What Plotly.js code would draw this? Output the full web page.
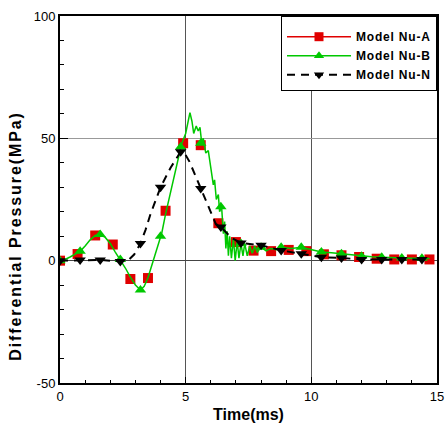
<!DOCTYPE html>
<html>
<head>
<meta charset="utf-8">
<script src="https://cdn.plot.ly/plotly-3.0.1.min.js"></script>
<style>
html,body{margin:0;padding:0;background:#fff;}
#chart{width:448px;height:428px;}
.annotation-text{letter-spacing:1.9px;}
.legendtext{letter-spacing:0.8px;}
</style>
</head>
<body>
<div id="chart"></div>
<script>
// Model Nu-A (red squares)
var timeA = [0,0.7,1.4,2.1,2.8,3.5,4.2,4.9,5.6,6.3,7.0,7.7,8.4,9.1,9.8,10.5,11.2,11.9,12.6,13.3,14.0,14.7];
var nuA   = [0,2.7,10.3,6.6,-7.5,-7.1,20.4,48,47.2,15.3,7.6,4.1,3.9,4.4,3.9,2.6,2.2,1.5,0.8,0.5,0.5,0.5];

// Model Nu-B (green curve + triangle markers)
var timeBLine = [0,0.2,0.4,0.6,0.8,1.0,1.2,1.4,1.6,1.8,2.0,2.2,2.4,2.6,2.8,3.0,3.2,3.35,3.5,3.7,3.9,4.05,4.2,4.4,4.6,4.84,5.0,5.1,5.17,5.25,5.32,5.42,5.5,5.57,5.64,5.7,5.8,5.9,5.97,6.05,6.1,6.15,6.22,6.3,6.35,6.43,6.5,6.55,6.6,6.65,6.7,6.75,6.82,6.9,6.97,7.05,7.12,7.2,7.28,7.35,7.45,7.55,7.65,7.75,7.85,8.0,8.2,8.4,8.6,8.8,9.2,9.6,10.0,10.4,10.8,11.2,11.6,12.0,12.4,12.8,13.2,13.6,14.0,14.4,14.7];
var nuBLine   = [0,0.5,1.5,2.5,3.8,6,8.5,10.3,10.7,9.5,7,3.5,0.5,-3,-6.7,-10,-12,-10.5,-7,0,6.5,11.3,19,28,38,47.8,52,57,60.5,57,52,55,53,54.5,48,50,44,45,40,34,31,33,25,27,20,22,11,16,5,12,2,10,1,9,0,8,1,7,2,7,2,6,3,6,3.5,5.5,4,5,4.5,5.5,5,5.5,4.5,3.5,3.2,2.8,2.3,1.8,1.6,1.4,1.2,1.1,1.0,1.0,0.9];
var timeBMark = [0,0.8,1.6,2.4,3.2,4.0,4.8,5.6,6.4,7.2,8.0,8.8,9.6,10.4,11.2,12.0,12.8,13.6,14.4];
var nuBMark   = [0,3.8,10.7,0.5,-12,10,46.5,48,22,7,5.5,5.5,5.5,3.5,2.8,1.8,1.4,1.1,1.0];

// Model Nu-N (black dashed + down triangles)
var timeNLine = [0,0.8,1.6,2.4,2.75,2.95,3.2,3.4,3.6,4.0,4.4,4.8,4.95,5.15,5.44,5.6,5.77,5.94,6.07,6.2,6.4,6.8,7.2,8.0,8.8,9.6,10.4,11.2,12.0,12.8,13.6,14.4];
var nuNLine   = [0,0.3,0.3,-0.3,0.5,2.5,7,12.5,19,30,38,44.5,44,40.5,33.5,29.5,26,21.8,18.4,15,13.8,9.5,7.2,6.3,4.2,2.8,1.4,1.1,0.5,0.5,0.5,0.5];
var timeNMark = [0,0.8,1.6,2.4,3.2,4.0,4.8,5.6,6.4,7.2,8.0,8.8,9.6,10.4,11.2,12.0,12.8,13.6,14.4];
var nuNMark   = [0,0.3,0.3,-0.3,7,30,44.5,29.5,13.8,7.2,6.3,4.2,2.8,1.4,1.1,0.5,0.5,0.5,0.5];

var seriesNames = ['Model Nu-A','Model Nu-B','Model Nu-N'];
var xTicks = [0,5,10,15];
var yTicks = [-50,0,50,100];
var xTitle = 'Time(ms)';
var yTitle = 'Differential Pressure(MPa)';

var RED = '#e00000', GREEN = '#00c800', BLACK = '#000000';

var traces = [
  {x: timeA, y: nuA, mode: 'markers', showlegend: false,
   marker: {symbol: 'square', size: 10, color: RED}},
  {x: timeBLine, y: nuBLine, mode: 'lines', showlegend: false,
   line: {color: GREEN, width: 1.5}},
  {x: timeBMark, y: nuBMark, mode: 'markers', showlegend: false,
   marker: {symbol: 'triangle-up', size: 10, color: GREEN}},
  {x: timeNLine, y: nuNLine, mode: 'lines', showlegend: false,
   line: {color: BLACK, width: 2, dash: '8px,6px'}},
  {x: timeNMark, y: nuNMark, mode: 'markers', showlegend: false,
   marker: {symbol: 'triangle-down', size: 10, color: BLACK}},
  // legend entries
  {x: [null], y: [null], name: seriesNames[0], mode: 'lines+markers',
   line: {color: RED, width: 1.5}, marker: {symbol: 'square', size: 9, color: RED}},
  {x: [null], y: [null], name: seriesNames[1], mode: 'lines+markers',
   line: {color: GREEN, width: 1.5}, marker: {symbol: 'triangle-up', size: 9, color: GREEN}},
  {x: [null], y: [null], name: seriesNames[2], mode: 'lines+markers',
   line: {color: BLACK, width: 2, dash: '8px,6px'}, marker: {symbol: 'triangle-down', size: 9, color: BLACK}}
];

var tickFont = {family: 'Arial, Liberation Sans, sans-serif', size: 13, color: '#000'};
var titleFont = {family: 'Arial, Liberation Sans, sans-serif', size: 16, color: '#000', weight: 'bold'};

var layout = {
  width: 448, height: 428,
  margin: {l: 60, r: 11, t: 16, b: 45, pad: 0},
  paper_bgcolor: '#fff', plot_bgcolor: '#fff',
  showlegend: true,
  legend: {x: 1, y: 1, xanchor: 'right', yanchor: 'top',
    bgcolor: '#fff', bordercolor: '#000', borderwidth: 1,
    itemwidth: 64,
    title: {text: ' ', font: {size: 4}},
    font: {family: 'Arial, Liberation Sans, sans-serif', size: 12, color: '#000', weight: 'bold'},
    tracegroupgap: 0},
  xaxis: {
    range: [0, 15], tickvals: xTicks, ticktext: xTicks.map(String),
    ticks: 'inside', ticklen: 6, tickwidth: 1.5, tickcolor: '#000',
    minor: {dtick: 1, ticks: 'inside', ticklen: 3, tickwidth: 1, tickcolor: '#000', showgrid: false},
    showgrid: true, gridcolor: '#555', gridwidth: 1,
    zeroline: false,
    showline: true, linecolor: '#000', linewidth: 2, mirror: true,
    tickfont: tickFont,
    title: {text: xTitle, font: titleFont, standoff: 6}
  },
  yaxis: {
    range: [-50, 100], tickvals: yTicks, ticktext: yTicks.map(String),
    ticks: 'inside', ticklen: 8, tickwidth: 1.5, tickcolor: '#000',
    minor: {dtick: 10, ticks: 'inside', ticklen: 4, tickwidth: 1, tickcolor: '#000', showgrid: false},
    showgrid: true, gridcolor: '#999', gridwidth: 1.2,
    zeroline: true, zerolinecolor: '#444', zerolinewidth: 1,
    showline: true, linecolor: '#000', linewidth: 2, mirror: true,
    tickfont: tickFont
  },
  annotations: [{
    text: yTitle, textangle: -90, showarrow: false,
    xref: 'paper', yref: 'paper', x: -0.118, y: 0.40,
    xanchor: 'center', yanchor: 'middle',
    font: titleFont
  }]
};

Plotly.newPlot('chart', traces, layout, {displayModeBar: false, staticPlot: true});
</script>
</body>
</html>
